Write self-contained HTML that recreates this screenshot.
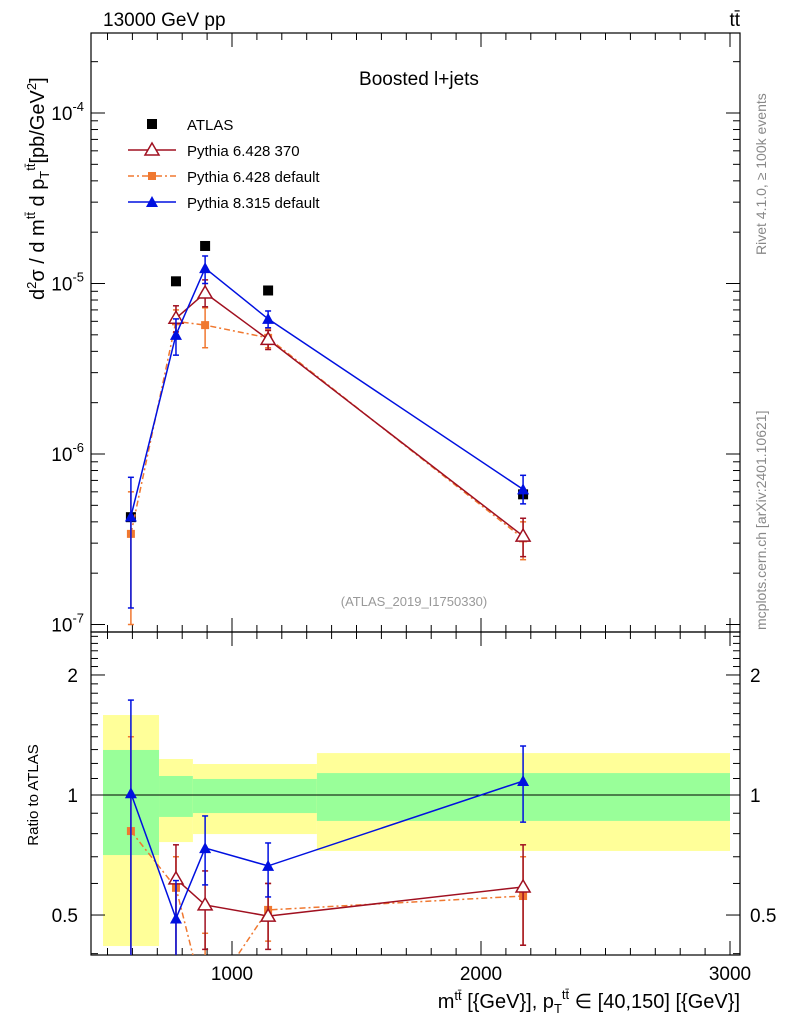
<!DOCTYPE html>
<html><head><meta charset="utf-8"><style>
body{margin:0;background:#fff;}
svg{font-family:"Liberation Sans",sans-serif;}
</style></head><body>
<svg id="c" width="786" height="1024" xmlns="http://www.w3.org/2000/svg">
<defs><clipPath id="cm"><rect x="91" y="33" width="649" height="599"/></clipPath><clipPath id="cr"><rect x="91" y="632" width="649" height="323"/></clipPath></defs>
<g id="bands"></g><g id="axes"></g><g id="marks" clip-path="url(#cm)"></g><g id="rmarks" clip-path="url(#cr)"></g>
<text x="103" y="26" font-size="19">13000 GeV pp</text>
<text x="740" y="26" font-size="19" text-anchor="end">tt&#772;</text>
<text x="419" y="85" font-size="19" text-anchor="middle">Boosted l+jets</text>
<text x="414" y="606" font-size="13" fill="#999" text-anchor="middle">(ATLAS_2019_I1750330)</text>
<text transform="translate(766,255) rotate(-90)" font-size="14" fill="#888">Rivet 4.1.0, ≥ 100k events</text>
<text transform="translate(766,630) rotate(-90)" font-size="14" fill="#888">mcplots.cern.ch [arXiv:2401.10621]</text>
<text transform="translate(44,300) rotate(-90)" font-size="20">d<tspan font-size="13" dy="-8">2</tspan><tspan dy="8">σ / d  m</tspan><tspan font-size="13" dy="-9">tt̄</tspan><tspan dy="9"> d p</tspan><tspan font-size="13" dy="5">T</tspan><tspan font-size="13" dy="-14">tt̄</tspan><tspan dy="9">[pb/GeV</tspan><tspan font-size="13" dy="-8">2</tspan><tspan dy="8">]</tspan></text>
<text transform="translate(38,795) rotate(-90)" font-size="15" text-anchor="middle">Ratio to ATLAS</text>
<text x="740" y="1008" font-size="20" text-anchor="end">m<tspan font-size="13" dy="-8">tt̄</tspan><tspan dy="8"> [{GeV}], p</tspan><tspan font-size="13" dy="5">T</tspan><tspan font-size="13" dy="-14">tt̄</tspan><tspan dy="9"> ∈ [40,150] [{GeV}]</tspan></text>
<g>
<rect x="147" y="119" width="10" height="10" fill="#000"/>
<text x="187" y="130" font-size="15">ATLAS</text>
<line x1="128" y1="150" x2="176" y2="150" stroke="#a01020" stroke-width="1.5"/>
<path d="M152,143 L159,155 L145,155Z" fill="#fff" stroke="#a01020" stroke-width="1.5"/>
<text x="187" y="156" font-size="15">Pythia 6.428 370</text>
<line x1="128" y1="176" x2="176" y2="176" stroke="#f07830" stroke-width="1.5" stroke-dasharray="6,3,2,3"/>
<rect x="148" y="172" width="8" height="8" fill="#f07830"/>
<text x="187" y="182" font-size="15">Pythia 6.428 default</text>
<line x1="128" y1="202" x2="176" y2="202" stroke="#0010e0" stroke-width="1.5"/>
<path d="M152,196 L158,207 L146,207Z" fill="#0010e0"/>
<text x="187" y="208" font-size="15">Pythia 8.315 default</text>
</g>
</svg>
<script>
const xPts=[594,775,892,1145,2169];
const binEdges=[482,707,843,1341,3000];
const atlas=[4.26e-7,1.03e-5,1.66e-5,9.1e-6,5.8e-7];
const p6_370=[null,6.25e-6,8.8e-6,4.7e-6,3.3e-7];
const p6_370Lo=[null,5.2e-6,7.3e-6,4.1e-6,2.5e-7];
const p6_370Hi=[null,7.4e-6,1.05e-5,5.3e-6,4.2e-7];
const p6def=[3.4e-7,6.0e-6,5.7e-6,4.8e-6,3.2e-7];
const p6defLo=[1.0e-7,5.0e-6,4.2e-6,4.2e-6,2.4e-7];
const p6defHi=[6.0e-7,7.0e-6,7.2e-6,5.4e-6,4.0e-7];
const p8=[4.3e-7,5.0e-6,1.23e-5,6.2e-6,6.2e-7];
const p8Lo=[1.25e-7,3.8e-6,1.0e-5,5.5e-6,5.1e-7];
const p8Hi=[7.3e-7,6.2e-6,1.45e-5,6.9e-6,7.5e-7];
const r370=[null,0.616,0.53,0.497,0.588];
const r370Lo=[null,0.3,0.41,0.41,0.42];
const r370Hi=[null,0.75,0.645,0.6,0.75];
const r6def=[0.812,0.585,0.3,0.515,0.558];
const r6defLo=[0.3,0.48,0.3,0.43,0.42];
const r6defHi=[1.4,0.7,0.45,0.6,0.7];
const r8=[1.01,0.49,0.736,0.664,1.084];
const r8Lo=[0.3,0.3,0.595,0.555,0.855];
const r8Hi=[1.73,0.61,0.886,0.758,1.327];
const bandYelLo=[0.418,0.762,0.798,0.724];
const bandYelHi=[1.587,1.231,1.196,1.274];
const bandGrnLo=[0.707,0.881,0.901,0.861];
const bandGrnHi=[1.297,1.116,1.097,1.135];
const NS="http://www.w3.org/2000/svg";
const L=91,R=740,T=33,M=632,B=955;
const X=v=>-17+0.249*v;
const Y=v=>113-(Math.log10(v)+4)*170.5;
const YR=v=>795-Math.log10(v)*398.7;
function mk(tag,at,parent){const e=document.createElementNS(NS,tag);for(const k in at)e.setAttribute(k,at[k]);document.getElementById(parent).appendChild(e);return e;}
for(let i=0;i<4;i++){
 let r=mk('rect',{x:X(binEdges[i]),y:YR(bandYelHi[i]),width:X(binEdges[i+1])-X(binEdges[i]),height:YR(bandYelLo[i])-YR(bandYelHi[i]),fill:'#ffff99'},'bands');
 
 
 let g=mk('rect',{x:X(binEdges[i]),y:YR(bandGrnHi[i]),width:X(binEdges[i+1])-X(binEdges[i]),height:YR(bandGrnLo[i])-YR(bandGrnHi[i]),fill:'#99ff99'},'bands');
 
 
}
const ax='axes';
mk('rect',{x:L,y:T,width:R-L,height:M-T,fill:'none',stroke:'#000','stroke-width':1.2},ax);
mk('rect',{x:L,y:M,width:R-L,height:B-M,fill:'none',stroke:'#000','stroke-width':1.2},ax);
mk('line',{x1:L,x2:R,y1:795,y2:795,stroke:'#000','stroke-width':1},ax);
for(let e=-7;e<=-4;e++){
 for(let m=1;m<10;m++){const v=m*Math.pow(10,e);const y=Y(v);if(y<T||y>M)continue;const len=m==1?14:7;
  mk('line',{x1:L,x2:L+len,y1:y,y2:y,stroke:'#000'},ax);mk('line',{x1:R,x2:R-len,y1:y,y2:y,stroke:'#000'},ax);}
 const t=mk('text',{x:84,y:Y(Math.pow(10,e))+7,'font-size':19,'text-anchor':'end'},ax);
 t.innerHTML='10<tspan font-size="13" dy="-9">'+e+'</tspan>';
 
 
}
for(let v=0.4;v<2.6;v+=0.1){const y=YR(v);if(y<=M||y>=B)continue;const maj=[0.5,1,2].some(q=>Math.abs(q-v)<1e-6);const len=maj?14:7;
 mk('line',{x1:L,x2:L+len,y1:y,y2:y,stroke:'#000'},ax);mk('line',{x1:R,x2:R-len,y1:y,y2:y,stroke:'#000'},ax);}
[[2,'2'],[1,'1'],[0.5,'0.5']].forEach(([v,s])=>{
 let a=mk('text',{x:78,y:YR(v)+7,'font-size':19,'text-anchor':'end'},ax);a.textContent=s;
 
 
 let b=mk('text',{x:750,y:YR(v)+7,'font-size':19},ax);b.textContent=s;
 
 
});
for(let v=500;v<=3000;v+=100){const x=X(v);const len=v%1000==0?14:7;
 [[T,1],[M,-1],[M,1],[B,-1]].forEach(([y0,d])=>mk('line',{x1:x,x2:x,y1:y0,y2:y0+d*len,stroke:'#000'},ax));
 if(v%1000==0){let t=mk('text',{x:x,y:980,'font-size':19,'text-anchor':'middle'},ax);t.textContent=v;
 
 }}
function series(vals,lo,hi,col,dash,marker,yf,name,par){
 const pts=[];vals.forEach((v,i)=>{if(v!==null)pts.push([X(xPts[i]),yf(v),i]);});
 pts.forEach(([x,y,i])=>{const l=lo[i],h=hi[i];
  mk('line',{x1:x,x2:x,y1:yf(h),y2:yf(l),stroke:col,'stroke-width':1.5},par);
  mk('line',{x1:x-3,x2:x+3,y1:yf(h),y2:yf(h),stroke:col,'stroke-width':1.5},par);
  mk('line',{x1:x-3,x2:x+3,y1:yf(l),y2:yf(l),stroke:col,'stroke-width':1.5},par);});
 const p=mk('polyline',{points:pts.map(q=>q[0]+','+q[1]).join(' '),fill:'none',stroke:col,'stroke-width':1.5},par);
 if(dash)p.setAttribute('stroke-dasharray',dash);
 
 
 pts.forEach(([x,y])=>{let m;
  if(marker=='otri')m=mk('path',{d:`M${x},${y-7}L${x+7},${y+5}L${x-7},${y+5}Z`,fill:'#fff',stroke:col,'stroke-width':1.5},par);
  else if(marker=='tri')m=mk('path',{d:`M${x},${y-6}L${x+6},${y+5}L${x-6},${y+5}Z`,fill:col},par);
  else m=mk('rect',{x:x-4,y:y-4,width:8,height:8,fill:col},par);
  
  });
}
atlas.forEach((v,i)=>{const r=mk('rect',{x:X(xPts[i])-5,y:Y(v)-5,width:10,height:10,fill:'#000'},'marks');
 
 });
series(p6def,p6defLo,p6defHi,'#f07830','6,3,2,3','sq',Y,'pythia6-default','marks');
series(p6_370,p6_370Lo,p6_370Hi,'#a01020',null,'otri',Y,'pythia6-370','marks');
series(p8,p8Lo,p8Hi,'#0010e0',null,'tri',Y,'pythia8','marks');
series(r6def,r6defLo,r6defHi,'#f07830','6,3,2,3','sq',YR,'ratio-pythia6-default','rmarks');
series(r370,r370Lo,r370Hi,'#a01020',null,'otri',YR,'ratio-pythia6-370','rmarks');
series(r8,r8Lo,r8Hi,'#0010e0',null,'tri',YR,'ratio-pythia8','rmarks');
</script>
</body></html>
